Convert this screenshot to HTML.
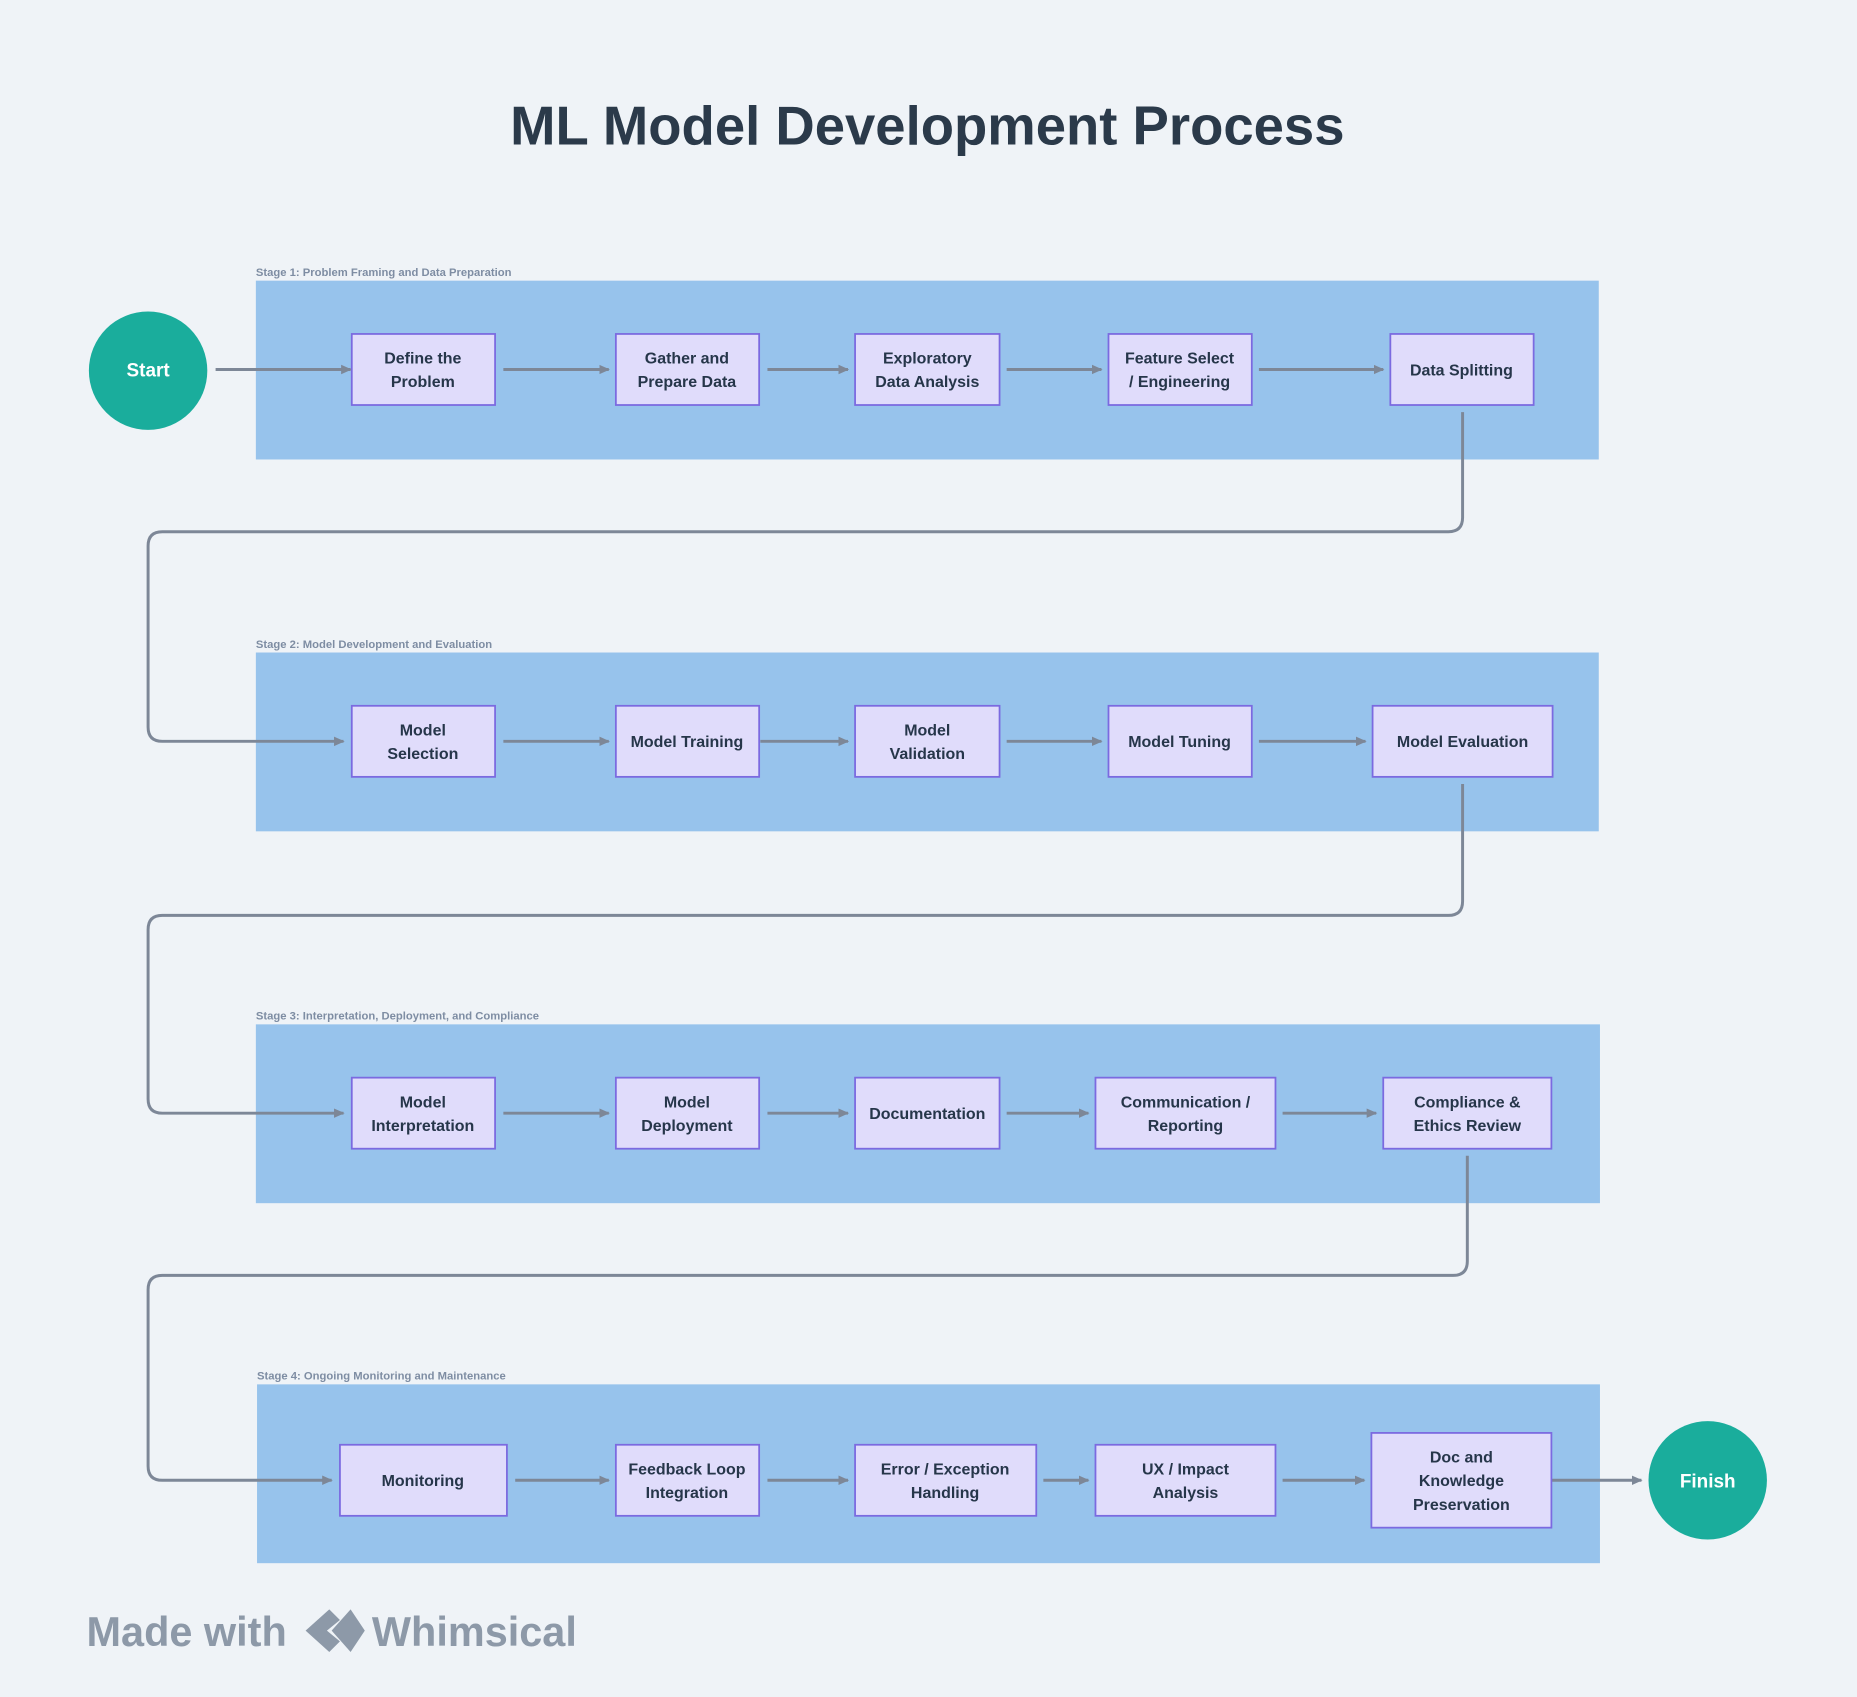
<!DOCTYPE html>
<html><head><meta charset="utf-8"><style>
html,body{margin:0;padding:0;background:#eff3f7;}
svg{display:block;}
text{font-family:"Liberation Sans","DejaVu Sans",sans-serif;}
.t{font-size:13.5px;font-weight:bold;fill:#26364a;text-anchor:middle;}
.s{font-size:9.5px;fill:#7e8da3;font-weight:bold;}
</style></head><body>
<svg width="1857" height="1697" viewBox="0 0 1568 1433" xmlns="http://www.w3.org/2000/svg">
<defs><marker id="a" markerWidth="10" markerHeight="10" refX="8" refY="5" orient="auto" markerUnits="userSpaceOnUse"><path d="M0,1 L9,5 L0,9 z" fill="#7d8797"/></marker></defs>
<rect width="1568" height="1433" fill="#eff3f7"/>
<text x="783" y="122" text-anchor="middle" style="font-size:46px;font-weight:bold;fill:#2b3a4a">ML Model Development Process</text>
<g fill="#97c3ec">
<rect x="216" y="237" width="1134" height="151"/>
<rect x="216" y="551" width="1134" height="151"/>
<rect x="216" y="865" width="1135" height="151"/>
<rect x="217" y="1169" width="1134" height="151"/>
</g>
<text class="s" x="216" y="233">Stage 1: Problem Framing and Data Preparation</text>
<text class="s" x="216" y="547">Stage 2: Model Development and Evaluation</text>
<text class="s" x="216" y="861">Stage 3: Interpretation, Deployment, and Compliance</text>
<text class="s" x="217" y="1165">Stage 4: Ongoing Monitoring and Maintenance</text>
<g fill="none" stroke="#7d8797" stroke-width="2.5" marker-end="url(#a)">
<path d="M182 312H296"/><path d="M425 312H514"/><path d="M648 312H716"/><path d="M850 312H930"/><path d="M1063 312H1168"/>
<path d="M1235 348V437Q1235 449 1223 449H137Q125 449 125 461V614Q125 626 137 626H290"/>
<path d="M425 626H514"/><path d="M642 626H716"/><path d="M850 626H930"/><path d="M1063 626H1153"/>
<path d="M1235 662V761Q1235 773 1223 773H137Q125 773 125 785V928Q125 940 137 940H290"/>
<path d="M425 940H514"/><path d="M648 940H716"/><path d="M850 940H919"/><path d="M1083 940H1162"/>
<path d="M1239 976V1065Q1239 1077 1227 1077H137Q125 1077 125 1089V1238Q125 1250 137 1250H280"/>
<path d="M435 1250H514"/><path d="M648 1250H716"/><path d="M881 1250H919"/><path d="M1083 1250H1152"/><path d="M1310 1250H1386"/>
</g>
<circle cx="125" cy="313" r="50" fill="#1aad9c"/><text x="125" y="318" text-anchor="middle" style="font-size:16px;font-weight:bold;fill:#fff">Start</text>
<circle cx="1442" cy="1250" r="50" fill="#1aad9c"/><text x="1442" y="1256" text-anchor="middle" style="font-size:16px;font-weight:bold;fill:#fff">Finish</text>
<g fill="#e0dcfb" stroke="#7b6ae0" stroke-width="1.5">
<rect x="297" y="282" width="121" height="60"/><rect x="520" y="282" width="121" height="60"/><rect x="722" y="282" width="122" height="60"/><rect x="936" y="282" width="121" height="60"/><rect x="1174" y="282" width="121" height="60"/>
<rect x="297" y="596" width="121" height="60"/><rect x="520" y="596" width="121" height="60"/><rect x="722" y="596" width="122" height="60"/><rect x="936" y="596" width="121" height="60"/><rect x="1159" y="596" width="152" height="60"/>
<rect x="297" y="910" width="121" height="60"/><rect x="520" y="910" width="121" height="60"/><rect x="722" y="910" width="122" height="60"/><rect x="925" y="910" width="152" height="60"/><rect x="1168" y="910" width="142" height="60"/>
<rect x="287" y="1220" width="141" height="60"/><rect x="520" y="1220" width="121" height="60"/><rect x="722" y="1220" width="153" height="60"/><rect x="925" y="1220" width="152" height="60"/><rect x="1158" y="1210" width="152" height="80"/>
</g>
<g class="t">
<text class="t" x="357" y="307">Define the</text><text class="t" x="357" y="327">Problem</text>
<text class="t" x="580" y="307">Gather and</text><text class="t" x="580" y="327">Prepare Data</text>
<text class="t" x="783" y="307">Exploratory</text><text class="t" x="783" y="327">Data Analysis</text>
<text class="t" x="996" y="307">Feature Select</text><text class="t" x="996" y="327">/ Engineering</text>
<text class="t" x="1234" y="317">Data Splitting</text>
<text class="t" x="357" y="621">Model</text><text class="t" x="357" y="641">Selection</text>
<text class="t" x="580" y="631">Model Training</text>
<text class="t" x="783" y="621">Model</text><text class="t" x="783" y="641">Validation</text>
<text class="t" x="996" y="631">Model Tuning</text>
<text class="t" x="1235" y="631">Model Evaluation</text>
<text class="t" x="357" y="935">Model</text><text class="t" x="357" y="955">Interpretation</text>
<text class="t" x="580" y="935">Model</text><text class="t" x="580" y="955">Deployment</text>
<text class="t" x="783" y="945">Documentation</text>
<text class="t" x="1001" y="935">Communication /</text><text class="t" x="1001" y="955">Reporting</text>
<text class="t" x="1239" y="935">Compliance &amp;</text><text class="t" x="1239" y="955">Ethics Review</text>
<text class="t" x="357" y="1255">Monitoring</text>
<text class="t" x="580" y="1245">Feedback Loop</text><text class="t" x="580" y="1265">Integration</text>
<text class="t" x="798" y="1245">Error / Exception</text><text class="t" x="798" y="1265">Handling</text>
<text class="t" x="1001" y="1245">UX / Impact</text><text class="t" x="1001" y="1265">Analysis</text>
<text class="t" x="1234" y="1235">Doc and</text><text class="t" x="1234" y="1255">Knowledge</text><text class="t" x="1234" y="1275">Preservation</text>
</g>
<text x="73" y="1390" style="font-size:35px;font-weight:bold;fill:#8d99a8">Made with</text>
<g fill="#8d99a8"><path d="M258 1377L278 1359L287 1368L276 1377L287 1386L278 1395Z"/><path d="M280 1377L296 1359L308 1377L296 1395Z"/></g>
<text x="314" y="1390" style="font-size:35px;font-weight:bold;fill:#8d99a8">Whimsical</text>
</svg>
</body></html>
